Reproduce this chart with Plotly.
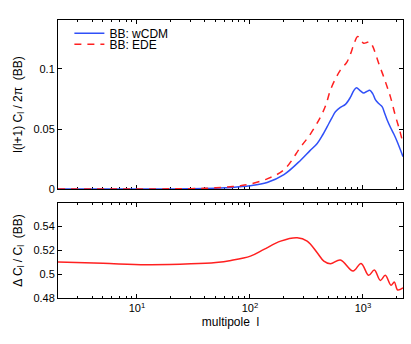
import numpy as np
import plotly.graph_objects as go

# BB spectra, l(l+1)C_l/2pi
ell_wcdm = [2, 10, 20, 30, 40, 50, 60, 70, 80, 100, 142, 200, 281, 340, 394, 440,
            483, 530, 571, 632, 700, 776, 830, 877, 950, 1017, 1080, 1149, 1220,
            1289, 1380, 1478, 1560, 1640, 1760, 1873, 2000, 2264]
bb_wcdm = [0.0, 0.00003, 0.0001, 0.0002, 0.0004, 0.0007, 0.001, 0.0013, 0.0018,
           0.0027, 0.0055, 0.012, 0.024, 0.032, 0.038, 0.045, 0.052, 0.059, 0.0644,
           0.068, 0.0705, 0.0765, 0.082, 0.0844, 0.0818, 0.080, 0.0812, 0.0822,
           0.0795, 0.0745, 0.0712, 0.0686, 0.063, 0.0575, 0.051, 0.046, 0.040, 0.027]

ell_ede = [2, 10, 20, 30, 40, 50, 60, 70, 80, 100, 142, 200, 281, 344, 421, 470,
           516, 580, 632, 724, 780, 828, 899, 960, 1017, 1080, 1149, 1220, 1289,
           1400, 1526, 1640, 1750, 1930, 2100, 2264]
bb_ede = [0.0, 0.00005, 0.00015, 0.0003, 0.0006, 0.001, 0.0015, 0.002, 0.0027,
          0.0041, 0.0085, 0.016, 0.035, 0.046, 0.060, 0.070, 0.0825, 0.093, 0.099,
          0.106, 0.113, 0.120, 0.127, 0.124, 0.1214, 0.122, 0.1228, 0.119, 0.113,
          0.103, 0.0936, 0.085, 0.077, 0.0617, 0.050, 0.038]

# fractional difference Delta C_l / C_l
ell_ratio = [2, 5, 12, 30, 50, 68, 101, 133, 187, 262, 321, 394, 451, 516, 632,
             818, 963, 1125, 1262, 1426, 1578, 1773, 1896, 2030, 2264]
ratio = [0.5100, 0.5090, 0.5078, 0.5085, 0.5097, 0.5114, 0.515, 0.5206, 0.5275,
         0.5303, 0.5275, 0.5178, 0.5108, 0.5086, 0.5117, 0.5025, 0.5089, 0.4989,
         0.5033, 0.4947, 0.4989, 0.4906, 0.4933, 0.4867, 0.4885]

x_ticks = [10, 100, 1000]
x_ticktext = ["10<sup>1</sup>", "10<sup>2</sup>", "10<sup>3</sup>"]
y1_ticks = [0, 0.05, 0.1]
y1_ticktext = ["0", "0.05", "0.1"]
y2_ticks = [0.48, 0.5, 0.52, 0.54]
y2_ticktext = ["0.48", "0.5", "0.52", "0.54"]

BLUE = "#3050f8"
RED = "#ff2020"
FONT = "Liberation Sans, Arial, sans-serif"

minor_x = [m * 10 ** d for d in range(0, 4) for m in range(2, 10) if 2 <= m * 10 ** d <= 2264]

fig = go.Figure()
fig.add_trace(go.Scatter(x=ell_wcdm, y=bb_wcdm, mode="lines", name="BB: wCDM",
                         line=dict(color=BLUE, width=1.5, shape="spline"),
                         xaxis="x", yaxis="y", legend="legend"))
fig.add_trace(go.Scatter(x=ell_ede, y=bb_ede, mode="lines", name="BB: EDE",
                         line=dict(color=RED, width=1.5, dash="7px,6px", shape="spline"),
                         xaxis="x", yaxis="y", legend="legend2"))
fig.add_trace(go.Scatter(x=ell_ratio, y=ratio, mode="lines", showlegend=False,
                         line=dict(color=RED, width=1.5, shape="spline"),
                         xaxis="x2", yaxis="y2"))

xrange = [np.log10(2), np.log10(2264)]
common_x = dict(type="log", range=xrange, showgrid=False, zeroline=False,
                showline=True, linecolor="black", linewidth=1, mirror="allticks",
                ticks="inside", ticklen=4, tickcolor="black", automargin=False,
                tickvals=x_ticks, ticktext=x_ticktext, tickfont=dict(size=11),
                minor=dict(tickvals=minor_x, ticks="inside", ticklen=2, tickcolor="black"),
                layer="below traces")
common_y = dict(showgrid=False, zeroline=False, showline=True, linecolor="black",
                linewidth=1, mirror="allticks", ticks="inside", ticklen=4,
                tickcolor="black", layer="below traces", automargin=False,
                tickfont=dict(size=11))

fig.update_layout(
    width=411, height=344,
    margin=dict(l=58, r=8, t=20, b=46),
    paper_bgcolor="white", plot_bgcolor="white",
    font=dict(family=FONT, size=12, color="black"),
    xaxis=dict(common_x, domain=[0, 1], anchor="y", showticklabels=False),
    yaxis=dict(common_y, domain=[0.392, 1], anchor="x", range=[0, 0.1408],
               tickvals=y1_ticks, ticktext=y1_ticktext,
               title=dict(text="l(l+1) C<sub>l</sub> / 2π  (BB)", standoff=8,
                          font=dict(size=12))),
    xaxis2=dict(common_x, domain=[0, 1], anchor="y2",
                title=dict(text="multipole  l", standoff=4, font=dict(size=12))),
    yaxis2=dict(common_y, domain=[0, 0.342], anchor="x2", range=[0.48, 0.5594],
                tickvals=y2_ticks, ticktext=y2_ticktext,
                title=dict(text="Δ C<sub>l</sub> / C<sub>l</sub>  (BB)", standoff=8,
                           font=dict(size=12))),
    legend=dict(x=0.033, y=0.952, xanchor="left", yanchor="middle",
                bgcolor="rgba(0,0,0,0)", font=dict(size=12)),
    legend2=dict(x=0.033, y=0.9126, xanchor="left", yanchor="middle",
                 bgcolor="rgba(0,0,0,0)", font=dict(size=12)),
)

# drop the page's default body margin so the figure sits at the window origin
fig.write_html("out.html", config={"displayModeBar": False},
               post_script="document.body.style.margin='0';document.body.style.padding='0';")
